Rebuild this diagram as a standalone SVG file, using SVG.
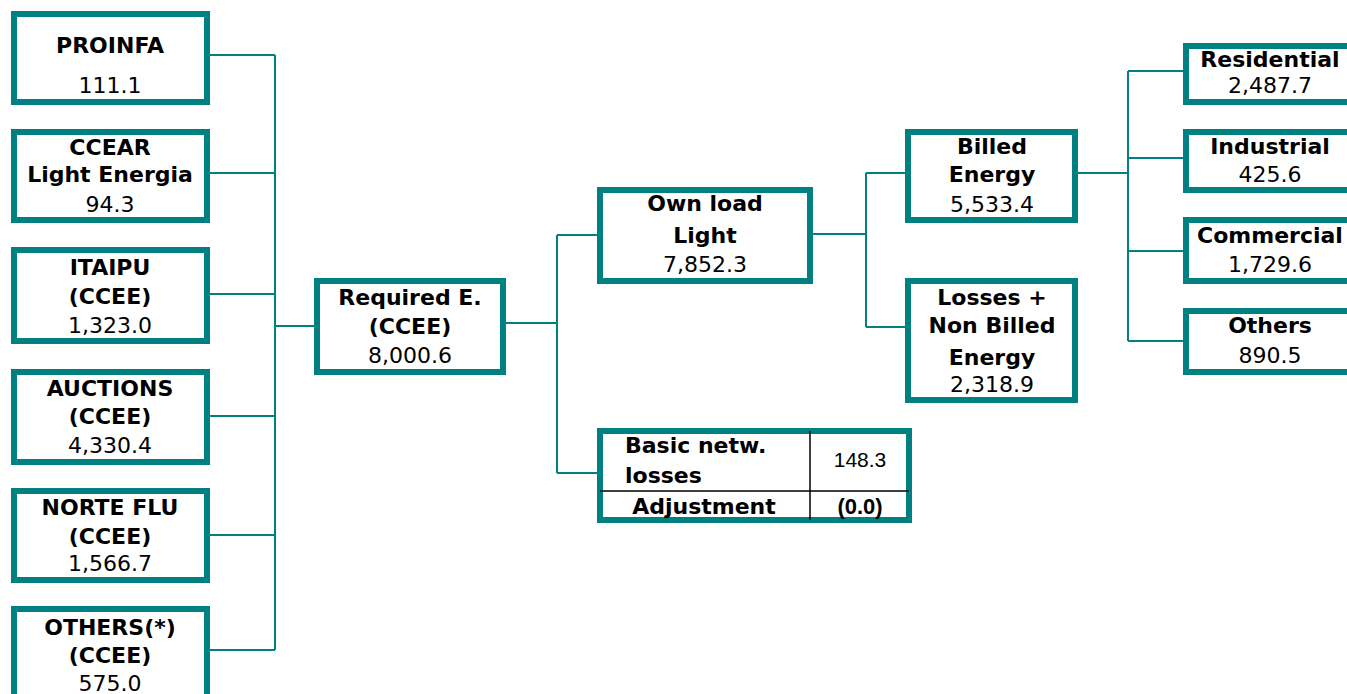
<svg xmlns="http://www.w3.org/2000/svg" width="1347" height="694" viewBox="0 0 1347 694">
<style>
.box{fill:#fff;stroke:#008080;stroke-width:6}
.conn{fill:none;stroke:#008080;stroke-width:2}
.cell{stroke:#000;stroke-width:1.5}
text{font-family:"DejaVu Sans",Verdana,sans-serif;font-size:22px;fill:#000;text-anchor:middle}
.b{font-weight:bold}
.a{font-family:"Liberation Sans",Arial,sans-serif;font-size:21px}
.ab{font-family:"Liberation Sans",Arial,sans-serif;font-size:22px;font-weight:bold}
.l{text-anchor:start}
</style>
<rect width="1347" height="694" fill="#fff"/>
<g id="connectors">
<path class="conn" d="M210 55H275M210 173H275M210 294H275M210 416H275M210 535H275M210 650H275M275 55V650M275 326H314"/>
<path class="conn" d="M506 323H557M557 235V473M557 235H597M557 473H597"/>
<path class="conn" d="M813 234H866M866 173V327M866 173H905M866 327H905"/>
<path class="conn" d="M1078 173H1128M1128 71V341M1128 71H1183M1128 158H1183M1128 251H1183M1128 341H1183"/>
</g>
<g id="proinfa"><rect class="box" x="14" y="14" width="193" height="88"/>
<text class="b" x="110" y="53">PROINFA</text><text x="110" y="93">111.1</text></g>
<g id="ccear"><rect class="box" x="14" y="132" width="193" height="88"/>
<text class="b" x="110" y="155">CCEAR</text><text class="b" x="110" y="182">Light Energia</text><text x="110" y="212">94.3</text></g>
<g id="itaipu"><rect class="box" x="14" y="250" width="193" height="91"/>
<text class="b" x="110" y="275">ITAIPU</text><text class="b" x="110" y="304">(CCEE)</text><text x="110" y="333">1,323.0</text></g>
<g id="auctions"><rect class="box" x="14" y="372" width="193" height="90"/>
<text class="b" x="110" y="396">AUCTIONS</text><text class="b" x="110" y="424">(CCEE)</text><text x="110" y="453">4,330.4</text></g>
<g id="nortefl"><rect class="box" x="14" y="491" width="193" height="89"/>
<text class="b" x="110" y="515">NORTE FLU</text><text class="b" x="110" y="544">(CCEE)</text><text x="110" y="571">1,566.7</text></g>
<g id="others-left"><rect class="box" x="14" y="609" width="193" height="100"/>
<text class="b" x="110" y="635">OTHERS(*)</text><text class="b" x="110" y="663">(CCEE)</text><text x="110" y="691">575.0</text></g>
<g id="required"><rect class="box" x="317" y="281" width="186" height="91"/>
<text class="b" x="410" y="305">Required E.</text><text class="b" x="410" y="334">(CCEE)</text><text x="410" y="363">8,000.6</text></g>
<g id="ownload"><rect class="box" x="600" y="190" width="210" height="91"/>
<text class="b" x="705" y="211">Own load</text><text class="b" x="705" y="243">Light</text><text x="705" y="272">7,852.3</text></g>
<g id="billed"><rect class="box" x="908" y="132" width="167" height="88"/>
<text class="b" x="992" y="154">Billed</text><text class="b" x="992" y="182">Energy</text><text x="992" y="212">5,533.4</text></g>
<g id="losses"><rect class="box" x="908" y="281" width="167" height="119"/>
<text class="b" x="992" y="305">Losses +</text><text class="b" x="992" y="333">Non Billed</text><text class="b" x="992" y="365">Energy</text><text x="992" y="392">2,318.9</text></g>
<g id="basic"><rect class="box" x="600" y="431" width="309" height="89"/>
<path class="cell" d="M810 431V520M600 491H909"/>
<text class="b l" x="625" y="453">Basic netw.</text><text class="b l" x="625" y="483">losses</text>
<text class="a" x="860" y="467">148.3</text>
<text class="b" x="704" y="514">Adjustment</text><text class="ab" x="860" y="514">(0.0)</text></g>
<g id="residential"><rect class="box" x="1186" y="46" width="200" height="56"/>
<text class="b" x="1270" y="67">Residential</text><text x="1270" y="93">2,487.7</text></g>
<g id="industrial"><rect class="box" x="1186" y="132" width="200" height="58"/>
<text class="b" x="1270" y="154">Industrial</text><text x="1270" y="182">425.6</text></g>
<g id="commercial"><rect class="box" x="1186" y="220" width="200" height="61"/>
<text class="b" x="1270" y="243">Commercial</text><text x="1270" y="272">1,729.6</text></g>
<g id="others-right"><rect class="box" x="1186" y="311" width="200" height="61"/>
<text class="b" x="1270" y="333">Others</text><text x="1270" y="363">890.5</text></g>
</svg>
